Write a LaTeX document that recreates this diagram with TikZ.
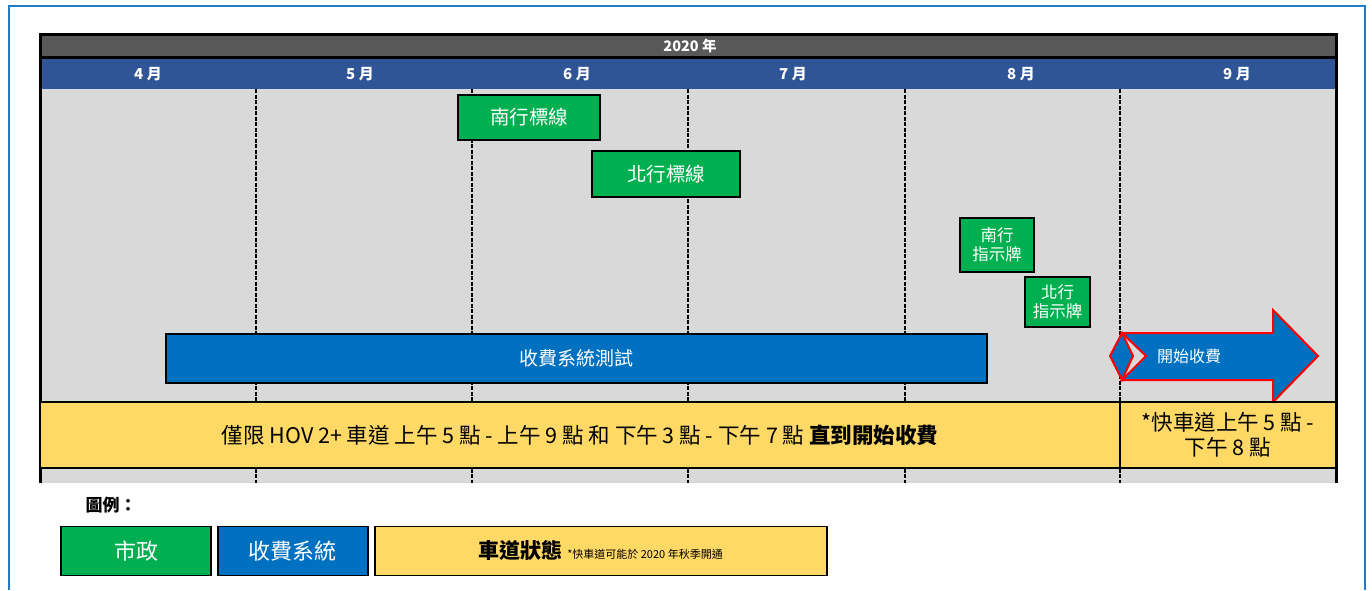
\documentclass[tikz,border=0pt]{standalone}
\usepackage{fontspec}
\setmainfont{Noto Sans CJK TC}
\usetikzlibrary{positioning}

\definecolor{framebl}{HTML}{1F7DC8}
\definecolor{hdrgray}{HTML}{595959}
\definecolor{monthbl}{HTML}{2F5597}
\definecolor{bggray}{HTML}{D9D9D9}
\definecolor{civgreen}{HTML}{00B050}
\definecolor{tollbl}{HTML}{0070C0}
\definecolor{laneyl}{HTML}{FFD966}

\begin{document}
\begin{tikzpicture}[x=1pt,y=-1pt,
  box/.style={draw=black,line width=1.8pt,inner sep=0pt,align=center},
  civil/.style={box,fill=civgreen,text=white,font=\fontsize{19.5}{21}\selectfont},
  toll/.style={box,fill=tollbl,text=white,font=\fontsize{19}{21}\selectfont},
  lane/.style={box,fill=laneyl,text=black,font=\fontsize{21.5}{25}\selectfont},
  month/.style={text=white,font=\bfseries\fontsize{15}{16}\selectfont}]
\useasboundingbox (0,0) rectangle (1372,590);

% Outer frame
\draw[framebl,line width=2.5pt] (9,590) -- (9,6) -- (1365,6) -- (1365,590);

% Chart background and month grid
\fill[bggray] (42,89) rectangle (1335,483);
\foreach \x in {256,472,688,905,1120}
{
    \draw[line width=1.4pt,dash pattern=on 4pt off 1.5pt] (\x,89) -- (\x,483);
}

% Header
\fill[black] (39,33) rectangle (1338,59);
\fill[hdrgray] (42,36) rectangle (1335,56);
\fill[monthbl] (42,59) rectangle (1335,89);
\fill[black] (39,59) rectangle (42,483);
\fill[black] (1335,59) rectangle (1338,483);
\node[month,font=\bfseries\fontsize{14.5}{15}\selectfont] (year) at (690,46) {2020 年};
\foreach \m/\x in {4/148,5/360,6/577,7/793,8/1021,9/1237}
{
    \node[month] (m\m) at (\x,74) {\m\ 月};
}

% Civil tasks
\node[civil,minimum width=142,minimum height=45] (sbstripe) at (529,117.5) {南行標線};
\node[civil,minimum width=148,minimum height=46] (nbstripe) at (666,174) {北行標線};
\node[civil,minimum width=74,minimum height=54,font=\fontsize{16.5}{19}\selectfont] (sbsign) at (997,245) {南行\\指示牌};
\node[civil,minimum width=65,minimum height=50,font=\fontsize{16.5}{19}\selectfont] (nbsign) at (1057.5,302) {北行\\指示牌};

% Toll system
\node[toll,minimum width=821,minimum height=49] (test) at (576.5,358.5) {收費系統測試};
\draw[fill=tollbl,draw=red,line width=2pt] (1122,333) -- (1273,333) -- (1273,310) -- (1318,356)
    -- (1273,402) -- (1273,380) -- (1122,380) -- (1146,356) -- cycle;
\draw[fill=tollbl,draw=red,line width=2pt] (1110,356) -- (1122,333) -- (1133,356) -- (1122,380) -- cycle;
\node[text=white,font=\fontsize{16}{18}\selectfont] (start) at (1189,356) {開始收費};

% Lane status
\node[lane,minimum width=1080,minimum height=66] (hov) at (580,435)
    {僅限 HOV 2+ 車道 上午 5 點 - 上午 9 點 和 下午 3 點 - 下午 7 點 \textbf{直到開始收費}};
\node[lane,minimum width=216,minimum height=66] (express) at (1228,435) {*快車道上午 5 點 -\\下午 8 點};

% Legend
\node[font=\bfseries\fontsize{17}{19}\selectfont] (legend) at (111,505) {圖例：};
\node[civil,minimum width=150,minimum height=49,font=\fontsize{22}{24}\selectfont] (keyciv) at (136,551) {市政};
\node[toll,minimum width=150,minimum height=49,font=\fontsize{22}{24}\selectfont,right=5 of keyciv] (keytoll) {收費系統};
\node[lane,minimum width=452,minimum height=49,right=5 of keytoll] (keylane)
    {\textbf{\fontsize{21}{23}\selectfont 車道狀態} {\fontsize{11}{12}\selectfont *快車道可能於 2020 年秋季開通}};
\end{tikzpicture}
\end{document}
